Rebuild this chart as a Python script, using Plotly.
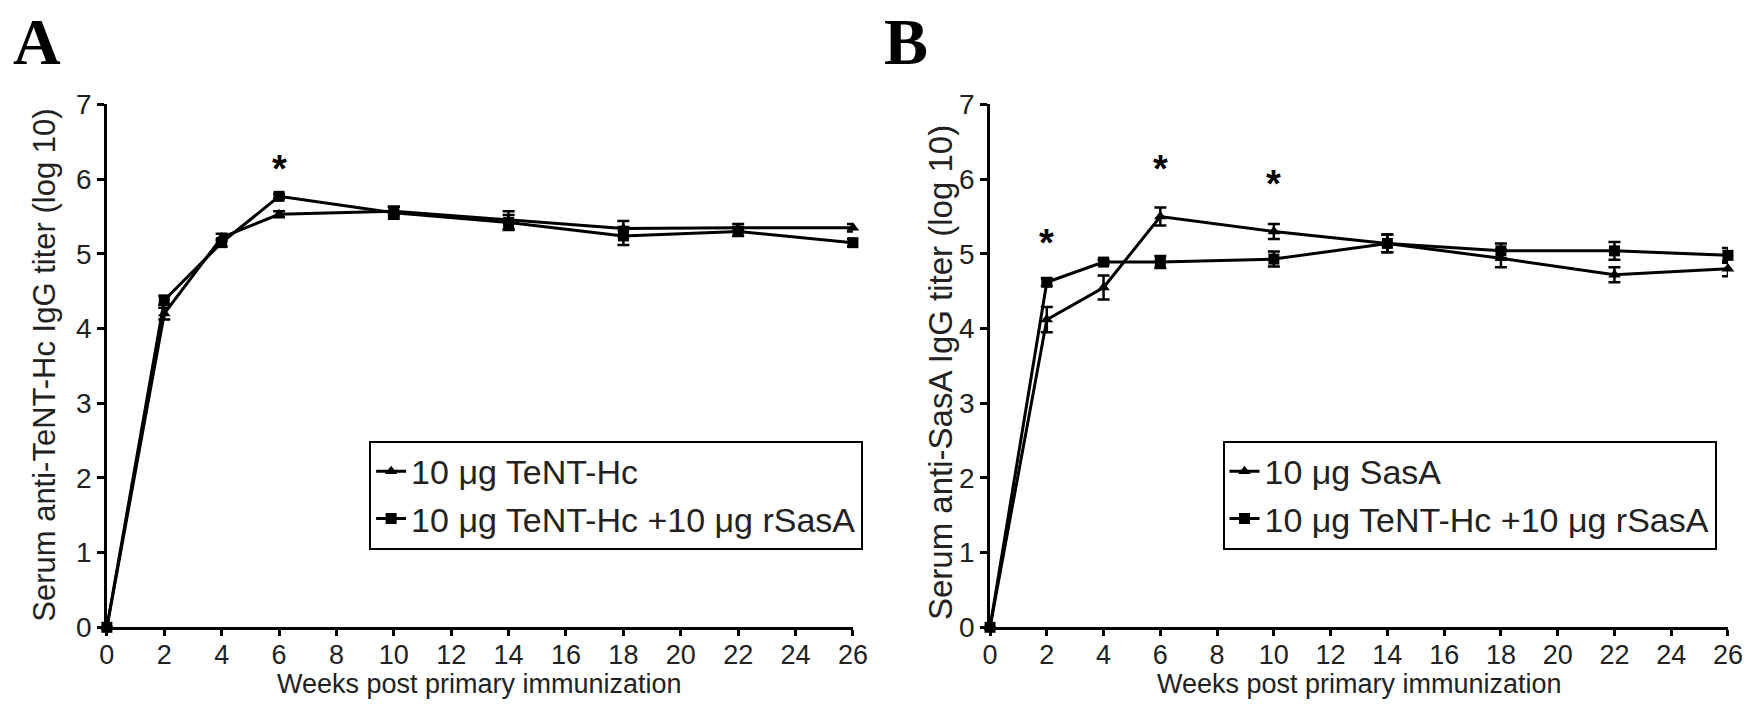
import plotly.graph_objects as go

# weeks after the primary immunization
weeks = [0, 2, 4, 6, 10, 14, 18, 22, 26]

# panel A - anti-TeNT-Hc titer (log10)
a_tent = [0, 4.20, 5.22, 5.53, 5.57, 5.45, 5.34, 5.35, 5.35]
a_tent_err = [0, 0.08, 0.05, 0.04, 0.06, 0.12, 0.10, 0.05, 0.05]
a_combo = [0, 4.38, 5.15, 5.77, 5.55, 5.42, 5.24, 5.30, 5.15]
a_combo_err = [0, 0.06, 0.05, 0.03, 0.08, 0.10, 0.12, 0.06, 0.05]

# panel B - anti-SasA titer (log10)
b_sasa = [0, 4.12, 4.55, 5.50, 5.30, 5.14, 4.94, 4.72, 4.80]
b_sasa_err = [0, 0.17, 0.16, 0.12, 0.10, 0.12, 0.12, 0.10, 0.10]
b_combo = [0, 4.62, 4.89, 4.89, 4.93, 5.14, 5.04, 5.04, 4.98]
b_combo_err = [0, 0.05, 0.03, 0.08, 0.10, 0.12, 0.10, 0.12, 0.10]

# significance marks
a_star_weeks = [6]
a_star_y = [6.13]
b_star_weeks = [2, 6, 10]
b_star_y = [5.15, 6.13, 5.93]

name_a1 = "10 \u03bcg TeNT-Hc"
name_b1 = "10 \u03bcg SasA"
name_combo = "10 \u03bcg TeNT-Hc +10 \u03bcg rSasA"
x_title = "Weeks post primary immunization"

FONT = "Liberation Sans, Arial, sans-serif"
TXT = "#222"


def series(x, y, err, name, symbol, xa, ya, legend):
    return go.Scatter(
        x=x, y=y, name=name, mode="lines+markers",
        xaxis=xa, yaxis=ya, legend=legend,
        line=dict(color="black", width=3),
        marker=dict(symbol=symbol, size=11, color="black"),
        error_y=dict(type="data", array=err, color="black", thickness=2.5, width=6),
        cliponaxis=False,
    )


fig = go.Figure()
fig.add_trace(series(weeks, a_tent, a_tent_err, name_a1, "triangle-up", "x", "y", "legend"))
fig.add_trace(series(weeks, a_combo, a_combo_err, name_combo, "square", "x", "y", "legend"))
fig.add_trace(series(weeks, b_sasa, b_sasa_err, name_b1, "triangle-up", "x2", "y2", "legend2"))
fig.add_trace(series(weeks, b_combo, b_combo_err, name_combo, "square", "x2", "y2", "legend2"))

xaxis_style = dict(
    range=[0, 26], tickmode="linear", tick0=0, dtick=2,
    showline=True, linecolor="black", linewidth=2.5,
    ticks="outside", ticklen=6, tickwidth=2.5, tickcolor="black",
    showgrid=False, zeroline=False, ticklabelstandoff=-4,
    tickfont=dict(size=27, color=TXT),
)
yaxis_style = dict(
    range=[0, 7], tickmode="linear", tick0=0, dtick=1,
    showline=True, linecolor="black", linewidth=2.5,
    ticks="outside", ticklen=7, tickwidth=2.5, tickcolor="black",
    showgrid=False, zeroline=False,
    tickfont=dict(size=28, color=TXT),
)

legend_style = dict(
    bgcolor="white", bordercolor="black", borderwidth=2,
    font=dict(size=34, color=TXT, family=FONT),
    xanchor="left", yanchor="top", tracegroupgap=0,
)

fig.update_layout(
    width=1754, height=710,
    paper_bgcolor="white", plot_bgcolor="white",
    font=dict(family=FONT, color=TXT),
    margin=dict(l=0, r=0, t=0, b=0),
    xaxis=dict(domain=[0.0525, 0.4835], anchor="y", **xaxis_style),
    yaxis=dict(domain=[0.11, 0.880], anchor="x", **yaxis_style),
    xaxis2=dict(domain=[0.5627, 0.989], anchor="y2", **xaxis_style),
    yaxis2=dict(domain=[0.11, 0.880], anchor="x2", **yaxis_style),
    legend=dict(x=0.204, y=0.385, **legend_style),
    legend2=dict(x=0.697, y=0.385, **legend_style),
)

# axis titles, placed by hand to sit where the original has them
for xp in [0.268, 0.776]:
    fig.add_annotation(x=xp, y=0.027, xref="paper", yref="paper", text=x_title,
                       showarrow=False, xanchor="center", yanchor="middle",
                       font=dict(size=27, color=TXT))
for title, xp, yp, fs in [("Serum anti-TeNT-Hc IgG titer (log 10)", 0.0165, 0.496, 31),
                          ("Serum anti-SasA IgG titer (log 10)", 0.534, 0.485, 33)]:
    fig.add_annotation(x=xp, y=yp, xref="paper", yref="paper", text=title,
                       textangle=-90, showarrow=False, xanchor="center", yanchor="middle",
                       font=dict(size=fs, color=TXT))

# asterisks for significant differences
for wk, yy in zip(a_star_weeks, a_star_y):
    fig.add_annotation(x=wk, y=yy, xref="x", yref="y", text="<b>*</b>",
                       showarrow=False, font=dict(size=38, color="black"))
for wk, yy in zip(b_star_weeks, b_star_y):
    fig.add_annotation(x=wk, y=yy, xref="x2", yref="y2", text="<b>*</b>",
                       showarrow=False, font=dict(size=38, color="black"))

# panel letters
for letter, px_ in [("A", -0.003), ("B", 0.5005)]:
    fig.add_annotation(x=px_, y=1.03, xref="paper", yref="paper", text="<b>%s</b>" % letter,
                       showarrow=False, xanchor="left", yanchor="top",
                       font=dict(family="Liberation Serif, Times New Roman, serif", size=66, color="black"))

fig.write_html("out.html")
